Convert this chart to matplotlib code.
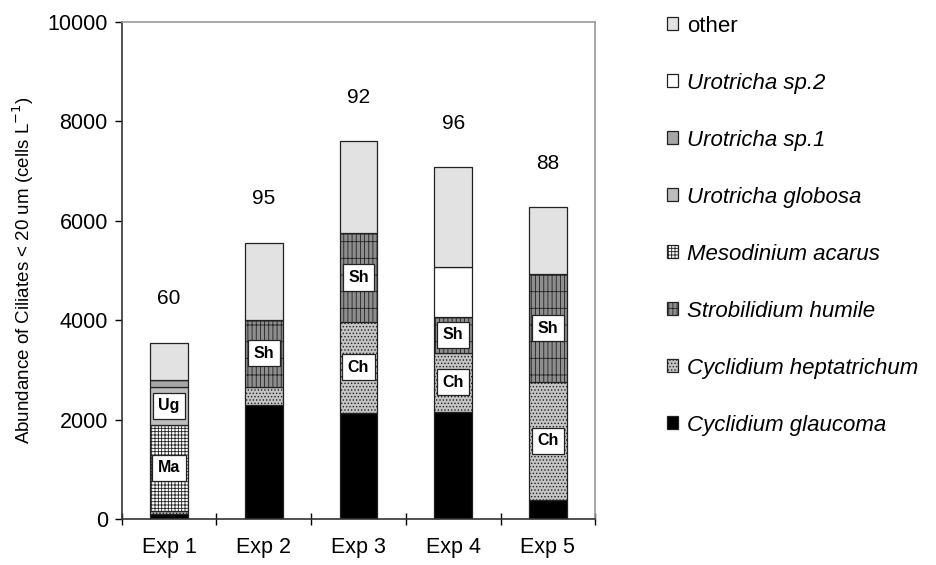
import matplotlib.pyplot as plt
import numpy as np

plt.rcParams['font.family'] = ['Liberation Sans', 'DejaVu Sans']
plt.rcParams['hatch.linewidth'] = 0.6

# experiments
exps = ['Exp 1', 'Exp 2', 'Exp 3', 'Exp 4', 'Exp 5']

# species, bottom of stack first
species = ['Cyclidium glaucoma', 'Cyclidium heptatrichum', 'Strobilidium humile',
           'Mesodinium acarus', 'Urotricha globosa', 'Urotricha sp.1',
           'Urotricha sp.2', 'other']

# abundances (cells per litre)
cg = [100, 2300, 2140, 2160, 380]
ch = [60, 360, 1830, 1190, 2380]
sh = [0, 1350, 1780, 720, 2160]
ma = [1740, 0, 0, 0, 0]
ug = [760, 0, 0, 0, 0]
usp1 = [140, 0, 0, 0, 0]
usp2 = [0, 0, 0, 1010, 0]
other = [750, 1550, 1850, 2000, 1360]

# numbers written above bars
top_labels = [60, 95, 92, 96, 88]

# abbreviations written inside segments
box_exp = [0, 0, 1, 2, 2, 3, 3, 4, 4]
box_species = [3, 4, 2, 2, 1, 2, 1, 2, 1]
box_text = ['Ma', 'Ug', 'Sh', 'Sh', 'Ch', 'Sh', 'Ch', 'Sh', 'Ch']

values = np.array([cg, ch, sh, ma, ug, usp1, usp2, other])

styles = [
    dict(facecolor='black', hatch=None),
    dict(facecolor='#c4c4c4', hatch='.....'),
    dict(facecolor='#8e8e8e', hatch='|||+'),
    dict(facecolor='white', hatch='+++++'),
    dict(facecolor='#bdbdbd', hatch=None),
    dict(facecolor='#a6a6a6', hatch=None),
    dict(facecolor='white', hatch=None),
    dict(facecolor='#e2e2e2', hatch=None),
]

fig = plt.figure(figsize=(9.36, 5.65), dpi=100)
ax = fig.add_axes([0.130, 0.0814, 0.506, 0.8796])

x = np.arange(len(exps))
width = 0.4
bottom = np.zeros(len(exps))
handles = []
for i, name in enumerate(species):
    bars = ax.bar(x, values[i], width, bottom=bottom, facecolor=styles[i]['facecolor'],
                  hatch=styles[i]['hatch'], edgecolor='#222222', linewidth=0.9,
                  label=name)
    handles.append(bars)
    bottom = bottom + values[i]

totals = values.sum(axis=0)
for xi, t, lab in zip(x, totals, top_labels):
    ax.text(xi, t + 880, str(lab), ha='center', va='center', fontsize=15)

cum = np.vstack([np.zeros(len(exps)), np.cumsum(values, axis=0)])
for e, s, txt in zip(box_exp, box_species, box_text):
    yc = (cum[s, e] + cum[s + 1, e]) / 2
    ax.text(e, yc, txt, ha='center', va='center', fontsize=11.5, fontweight='bold',
            bbox=dict(boxstyle='square,pad=0.35', facecolor='white',
                      edgecolor='#222222', linewidth=0.9))

ax.set_ylim(0, 10000)
ax.set_xlim(-0.5, 4.5)
ax.set_yticks(np.arange(0, 10001, 2000))
ax.set_xticks(np.arange(-0.5, 5, 1))
ax.set_xticklabels([])
ax.set_xticks(x, minor=True)
ax.set_xticklabels(exps, minor=True, fontsize=15.5)
ax.tick_params(axis='x', which='minor', length=0, pad=13)
ax.tick_params(axis='x', which='major', direction='inout', length=8, width=1)
ax.tick_params(axis='y', direction='out', length=5, width=1, labelsize=15.5, pad=5)
ax.set_ylabel('Abundance of Ciliates < 20 um (cells L$^{-1}$)', fontsize=13.5, labelpad=8)

for side in ['top', 'right']:
    ax.spines[side].set_color('#999999')
    ax.spines[side].set_linewidth(1.2)
for side in ['left', 'bottom']:
    ax.spines[side].set_color('#333333')
    ax.spines[side].set_linewidth(1.2)

leg = fig.legend(handles[::-1], species[::-1], loc='upper left',
                 bbox_to_anchor=(0.696, 1.0), frameon=False,
                 prop=dict(size=16, style='italic'), handlelength=0.5,
                 handleheight=0.5, handletextpad=0.4, labelspacing=1.62,
                 borderaxespad=0.3)
leg.get_texts()[0].set_fontstyle('normal')

fig.savefig('out.png', dpi=100)
